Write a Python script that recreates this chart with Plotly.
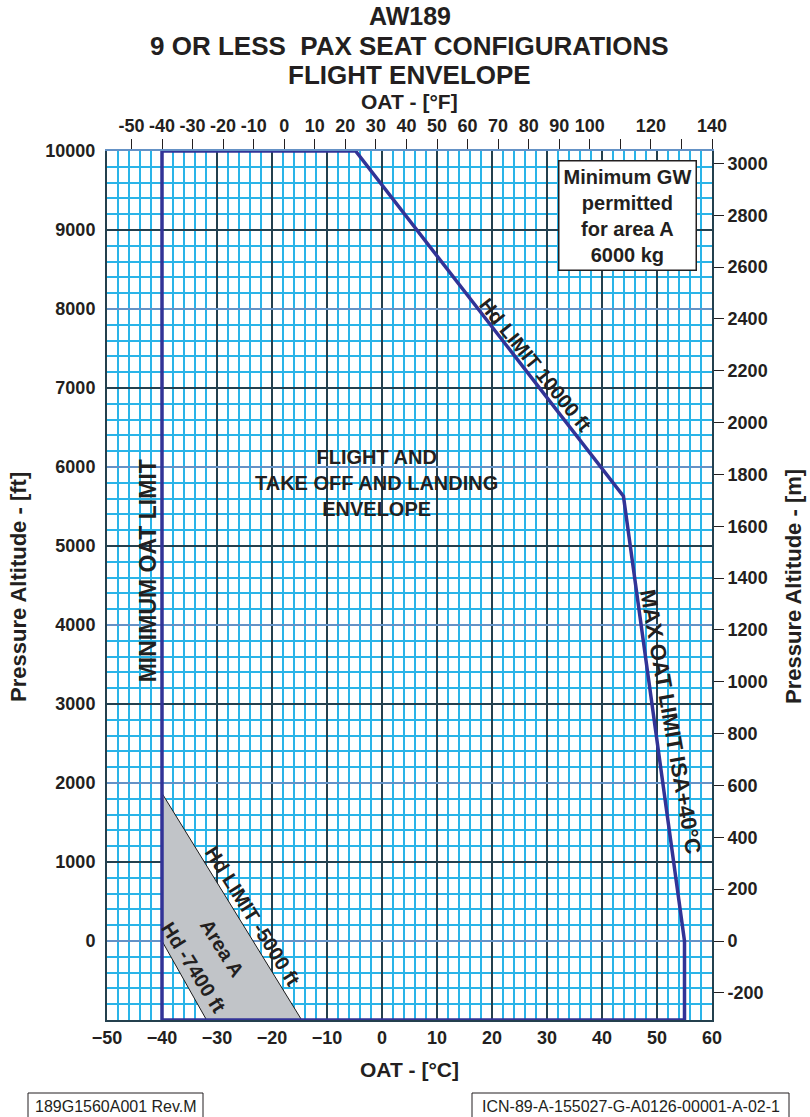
import plotly.graph_objects as go

# ---------------- data ----------------
oat_ticks_c = list(range(-50, 61, 10))
alt_ticks_ft = list(range(0, 10001, 1000))
alt_labels_ft = [str(v) for v in alt_ticks_ft]
alt_even_ft = list(range(0, 10001, 2000))
alt_ticks_m = list(range(-200, 3001, 200))
alt_labels_m = [str(v) for v in alt_ticks_m]
oat_ticks_f = list(range(-50, 141, 10))
oat_labels_f = ["" if v in (110, 130) else str(v) for v in oat_ticks_f]

# flight envelope outline (OAT degC, pressure altitude ft)
env_oat = [-40, -40, -4.8, 43.9, 55, 55, -40]
env_alt = [-1000, 10000, 10000, 5630, 0, -1000, -1000]

# Area A (grey)
areaA_oat = [-40, -40, -31.9, -14.6, -40]
areaA_alt = [1870, 0, -1000, -1000, 1870]

x_range = [-50, 60]
y_range = [-1000, 10000]
xf_range = [x_range[0] * 9 / 5 + 32, x_range[1] * 9 / 5 + 32]
ym_range = [y_range[0] * 0.3048, y_range[1] * 0.3048]

# ---------------- style ----------------
FONT = "Liberation Sans, Arial, Helvetica, sans-serif"
TXT = "#231f20"
CYAN = "#2ab4e8"
DARK = "#24404e"
STEEL = "#6592c6"
NAVY = "#323397"
GREY = "#c1c4c8"

W, H = 810, 1117
ML, MR, MT, MB = 107, 98, 151, 97
PW, PH = W - ML - MR, H - MT - MB


def px(x):
    return (x - ML) / PW


def py(y):
    return (H - MB - y) / PH


fig = go.Figure()

fig.add_trace(go.Scatter(
    x=areaA_oat, y=areaA_alt, mode="lines", fill="toself", fillcolor=GREY,
    line=dict(color="#1a1a1a", width=1), hoverinfo="skip", showlegend=False))

fig.add_trace(go.Scatter(
    x=env_oat, y=env_alt, mode="lines",
    line=dict(color=NAVY, width=3.5), hoverinfo="skip", showlegend=False))

# invisible trace binding the secondary axes
fig.add_trace(go.Scatter(
    x=xf_range, y=ym_range, xaxis="x2", yaxis="y2", mode="markers",
    marker=dict(opacity=0), hoverinfo="skip", showlegend=False))

tickfont = dict(family=FONT, size=18, color=TXT, weight="bold")

fig.update_layout(
    width=W, height=H, autosize=False,
    margin=dict(l=ML, r=MR, t=MT, b=MB),
    paper_bgcolor="white", plot_bgcolor="white",
    showlegend=False,
    xaxis=dict(
        range=x_range, tickmode="array", tickvals=oat_ticks_c,
        tickfont=tickfont, ticks="", showgrid=True, gridcolor=DARK, gridwidth=1.5,
        minor=dict(dtick=2, tick0=-50, showgrid=True, gridcolor=CYAN, gridwidth=1.5),
        showline=True, linecolor=DARK, linewidth=2, zeroline=False,
    ),
    yaxis=dict(
        range=y_range, tickmode="array", tickvals=alt_ticks_ft, ticktext=alt_labels_ft,
        tickfont=tickfont, ticks="", ticklabelstandoff=6,
        showgrid=True, gridcolor=DARK, gridwidth=1.5,
        minor=dict(dtick=200, tick0=-1000, showgrid=True, gridcolor=CYAN, gridwidth=1.5),
        showline=True, linecolor=DARK, linewidth=2, zeroline=False,
    ),
    xaxis2=dict(
        range=xf_range, overlaying="x", side="top", anchor="y",
        tickmode="array", tickvals=oat_ticks_f, ticktext=oat_labels_f,
        tickfont=tickfont, ticks="outside", ticklen=10, tickwidth=1.2, tickcolor=TXT,
        showgrid=False, zeroline=False, showline=True, linecolor=STEEL, linewidth=2,
    ),
    yaxis2=dict(
        range=ym_range, overlaying="y", side="right", anchor="x",
        tickmode="array", tickvals=alt_ticks_m, ticktext=alt_labels_m,
        tickfont=tickfont, ticks="outside", ticklen=10, tickwidth=1.2, tickcolor=TXT,
        showgrid=False, zeroline=False, showline=True, linecolor=DARK, linewidth=2,
    ),
)

# steel-blue even-thousand lines
for v in alt_even_ft[:-1]:
    fig.add_shape(type="line", xref="x", yref="y", x0=x_range[0], x1=x_range[1],
                  y0=v, y1=v, line=dict(color=STEEL, width=1.8), layer="between")


def ann(text, x, y, size=17, angle=0, xref="x", yref="y", bold=True, **kw):
    fig.add_annotation(text=text, x=x, y=y, xref=xref, yref=yref, showarrow=False,
                       textangle=angle, xanchor="center", yanchor="middle",
                       font=dict(family=FONT, size=size, color=TXT,
                                 weight="bold" if bold else "normal"), **kw)


# titles
ann("AW189", 0.5, py(16), size=25, xref="paper", yref="paper")
ann("9 OR LESS  PAX SEAT CONFIGURATIONS", 0.5, py(46), size=26, xref="paper", yref="paper")
ann("FLIGHT ENVELOPE", 0.5, py(75), size=26, xref="paper", yref="paper")
ann("OAT - [°F]", 0.5, py(101), size=21, xref="paper", yref="paper")
ann("OAT - [°C]", 0.5, py(1069), size=21, xref="paper", yref="paper")
ann("Pressure Altitude - [ft]", px(18), py(587), size=22, angle=-90, xref="paper", yref="paper")
ann("Pressure Altitude - [m]", px(793), py(587), size=22, angle=-90, xref="paper", yref="paper")

# in-plot labels
ann("FLIGHT AND<br>TAKE OFF AND LANDING<br>ENVELOPE", -1.0, 5800, size=20)
ann("MINIMUM OAT LIMIT", -42.4, 4690, size=23, angle=-90)
ann("Hd LIMIT 10000 ft", 27.9, 7290, size=20, angle=51)
ann("MAX OAT LIMIT ISA+40°C", 52.5, 2780, size=22, angle=80)
ann("Hd LIMIT -5000 ft", -23.5, 320, size=20, angle=58)
ann("Area A", -29.1, -92, size=20, angle=58)
ann("Hd -7400 ft", -34.2, -342, size=20, angle=58)
ann("Minimum GW<br>permitted<br>for area A<br>6000 kg", 44.6, 9180, size=20,
    bgcolor="white", bordercolor=TXT, borderwidth=1.5, borderpad=4)

# footer boxes
for x0, x1 in [(28, 203), (472, 789)]:
    fig.add_shape(type="rect", xref="paper", yref="paper",
                  x0=px(x0), x1=px(x1), y0=py(1130), y1=py(1093),
                  line=dict(color=TXT, width=1))
ann("189G1560A001 Rev.M", px(115.5), py(1106), size=16, xref="paper", yref="paper", bold=False)
ann("ICN-89-A-155027-G-A0126-00001-A-02-1", px(630.5), py(1106), size=16,
    xref="paper", yref="paper", bold=False)

fig.write_html("out.html")
